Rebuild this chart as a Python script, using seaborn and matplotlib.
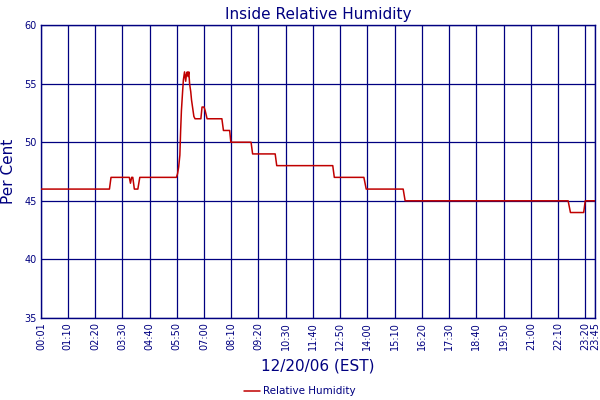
import matplotlib
matplotlib.use("Agg")
import matplotlib.pyplot as plt
import seaborn as sns
import pandas as pd

times = ["00:01", "02:57", "03:01", "03:48", "03:51", "03:54", "03:57", "04:01",
         "04:10", "04:15", "05:49", "05:52", "05:55", "05:58", "06:00", "06:02",
         "06:05", "06:07", "06:10", "06:13", "06:15", "06:17", "06:19", "06:21",
         "06:23", "06:26", "06:28", "06:31", "06:34", "06:37", "06:52", "06:55",
         "07:00", "07:03", "07:08", "07:46", "07:50", "08:06", "08:09", "09:01",
         "09:05", "10:03", "10:07", "12:31", "12:35", "13:51", "13:57", "15:32",
         "15:37", "22:36", "22:42", "23:16", "23:20", "23:45"]
humidity = [46, 46, 47, 47, 46.5, 47, 47, 46,
            46, 47, 47, 47.3, 47.9, 48.9, 51, 52.7,
            54.3, 55.3, 56, 55.2, 55.8, 56, 55.6, 56,
            55, 54.3, 53.6, 52.9, 52.2, 52, 52, 53,
            53, 52.7, 52, 52, 51, 51, 50, 50,
            49, 49, 48, 48, 47, 47, 46, 46,
            45, 45, 44, 44, 45, 45]
tick_labels = ["00:01", "01:10", "02:20", "03:30", "04:40", "05:50", "07:00",
               "08:10", "09:20", "10:30", "11:40", "12:50", "14:00", "15:10",
               "16:20", "17:30", "18:40", "19:50", "21:00", "22:10", "23:20", "23:45"]
y_ticks = [35, 40, 45, 50, 55, 60]


def to_min(s):
    h, m = s.split(":")
    return int(h) * 60 + int(m)


df = pd.DataFrame({"minute": [to_min(t) for t in times],
                   "Relative Humidity": humidity})

sns.set_style("white")
plt.rcParams['font.family'] = ['DejaVu Sans']
navy = "#000080"
red = "#C00000"

fig = plt.figure(figsize=(6, 4), dpi=100)
ax = fig.add_axes([0.0683, 0.205, 0.9233, 0.7325])

sns.lineplot(data=df, x="minute", y="Relative Humidity", ax=ax, color=red,
             linewidth=1.1, label="Relative Humidity", zorder=3)

tick_pos = [to_min(t) for t in tick_labels]
ax.set_xlim(tick_pos[0], tick_pos[-1])
ax.set_ylim(y_ticks[0], y_ticks[-1])
ax.set_xticks(tick_pos)
ax.set_xticklabels(tick_labels, rotation=90, fontsize=7, color=navy)
ax.set_yticks(y_ticks)
ax.set_yticklabels([str(v) for v in y_ticks], fontsize=7, color=navy)
ax.tick_params(axis="both", length=0, pad=3)
ax.grid(True, color=navy, linewidth=0.9)
ax.set_axisbelow(True)
for sp in ax.spines.values():
    sp.set_color(navy)
    sp.set_linewidth(1.0)

ax.set_title("Inside Relative Humidity", fontsize=11, color=navy, pad=4)
ax.set_xlabel("12/20/06 (EST)", fontsize=11, color=navy, labelpad=6)
ax.set_ylabel("Per Cent", fontsize=11, color=navy, labelpad=6)

leg = ax.legend(loc="center", bbox_to_anchor=(0.467, -0.25), frameon=False,
                fontsize=7.5, handlelength=1.5, handletextpad=0.3,
                borderpad=0.1)
for t in leg.get_texts():
    t.set_color(navy)

fig.savefig("out.png", dpi=100)
